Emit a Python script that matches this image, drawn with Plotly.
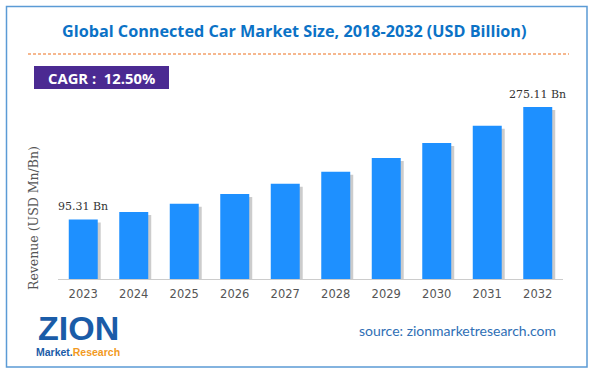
import plotly.graph_objects as go

years = ["2023", "2024", "2025", "2026", "2027", "2028", "2029", "2030", "2031", "2032"]
revenue = [95.31, 107.2, 120.3, 135.8, 152.4, 171.6, 193.4, 217.5, 245.0, 275.11]
label_idx = [0, 9]
title_text = "Global Connected Car Market Size, 2018-2032 (USD Billion)"
cagr_text = "CAGR :  12.50%"
ytitle = "Revenue (USD Mn/Bn)"
source_text = "source: zionmarketresearch.com"

W, H = 592, 375
L, R, T, B = 58, 29, 100, 96
PW, PH = W - L - R, H - T - B
unit_per_px = 275.11 / 172.0
ymax = PH * unit_per_px

def px(x):
    return (x - L) / PW

def py(y):
    return (H - B - y) / PH

bw = 0.574
sh_dx = 3 / (PW / len(years))

fig = go.Figure()
fig.add_trace(go.Bar(
    x=years, y=[v - 3 * unit_per_px for v in revenue],
    width=bw, offset=-bw / 2 + sh_dx,
    marker=dict(color="rgba(110,110,110,0.35)", line=dict(width=0)),
    hoverinfo="skip", showlegend=False))
fig.add_trace(go.Bar(
    x=years, y=revenue, width=bw, offset=-bw / 2,
    marker=dict(color="#1E90FF", line=dict(width=0)),
    showlegend=False))

shapes = [
    dict(type="rect", xref="paper", yref="paper", x0=px(6.5), x1=px(587), y0=py(6.5), y1=py(367),
         line=dict(color="#5B9BD5", width=1.5), fillcolor="rgba(0,0,0,0)", layer="below"),
    dict(type="line", xref="paper", yref="paper", x0=px(28), x1=px(569), y0=py(54), y1=py(54),
         line=dict(color="#F4A06A", width=1.3, dash="3px,2px")),
    dict(type="rect", xref="paper", yref="paper", x0=px(34), x1=px(169), y0=py(66), y1=py(89),
         line=dict(width=0), fillcolor="#4B2A92", layer="below"),
]

annotations = [
    dict(x=px(294), y=py(31), xref="paper", yref="paper", text="<b>" + title_text + "</b>", showarrow=False,
         xanchor="center", yanchor="middle", font=dict(family="Open Sans", size=16.2, color="#0B72C6")),
    dict(x=px(101), y=py(77.5), xref="paper", yref="paper", text="<b>" + cagr_text + "</b>", showarrow=False,
         xanchor="center", yanchor="middle", font=dict(family="Open Sans", size=14.8, color="#FFFFFF")),
    dict(x=px(33), y=py(218), xref="paper", yref="paper", text=ytitle, showarrow=False, textangle=-90,
         xanchor="center", yanchor="middle", font=dict(family="DejaVu Serif", size=12.5, color="#555555")),
    dict(x=px(558), y=py(330), xref="paper", yref="paper", text=source_text, showarrow=False,
         xanchor="right", yanchor="middle", font=dict(family="Lato", size=14, color="#2F6FB5")),
    dict(x=px(78), y=py(328), xref="paper", yref="paper", text="<b>ZION</b>", showarrow=False,
         xanchor="center", yanchor="middle", font=dict(family="Liberation Sans", size=34, color="#1A5CA8")),
    dict(x=px(78), y=py(352), xref="paper", yref="paper",
         text="<b><span style='color:#1A5CA8'>Market.</span><span style='color:#F29A1E'>Research</span></b>",
         showarrow=False, xanchor="center", yanchor="middle",
         font=dict(family="Liberation Sans", size=10.5, color="#1A5CA8")),
]
for i in label_idx:
    annotations.append(dict(x=i, y=revenue[i], xref="x", yref="y",
                            text=f"{revenue[i]:.2f} Bn", showarrow=False,
                            yanchor="bottom", yshift=4,
                            font=dict(family="DejaVu Serif", size=11, color="#333333")))

fig.update_layout(
    width=W, height=H, margin=dict(l=L, r=R, t=T, b=B, autoexpand=False),
    paper_bgcolor="white", plot_bgcolor="white", barmode="overlay",
    shapes=shapes, annotations=annotations, showlegend=False,
    xaxis=dict(type="category", range=[-0.5, len(years) - 0.5], showgrid=False, showline=True,
               linecolor="#CCCCCC", linewidth=1, ticks="", ticklabelstandoff=4,
               tickfont=dict(family="DejaVu Sans", size=11.5, color="#555555"), fixedrange=True),
    yaxis=dict(range=[0, ymax], showgrid=False, showticklabels=False, zeroline=False, showline=False,
               ticks="", fixedrange=True),
)

fig.write_html("out.html", config={"displayModeBar": False},
               post_script="document.body.style.margin='0';document.body.style.overflow='hidden';")
